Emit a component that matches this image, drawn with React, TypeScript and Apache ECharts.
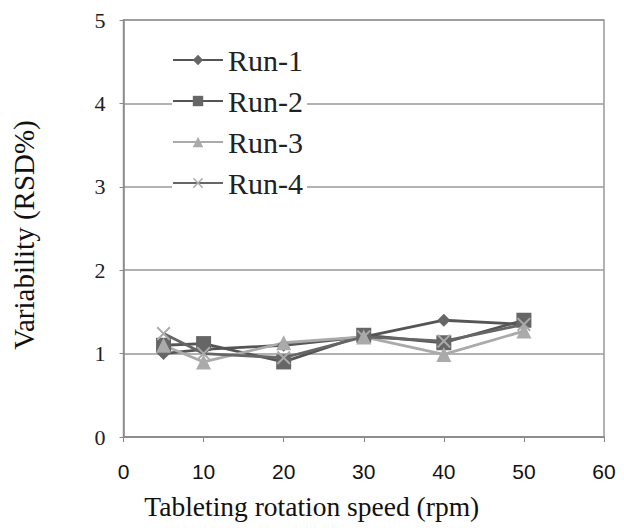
import React, { useEffect, useRef } from "react";
import * as echarts from "echarts";

const speeds = [5, 10, 20, 30, 40, 50];
const run1 = [1.0, 1.05, 1.1, 1.2, 1.4, 1.35];
const run2 = [1.1, 1.12, 0.9, 1.22, 1.13, 1.4];
const run3 = [1.1, 0.9, 1.13, 1.2, 0.99, 1.27];
const run4 = [1.24, 1.0, 0.95, 1.2, 1.15, 1.35];
const seriesNames = ["Run-1", "Run-2", "Run-3", "Run-4"];

const pairs = (ys: number[]) => speeds.map((x, i) => [x, ys[i]]);

const X_SYMBOL = "path://M0,1L1,0L5,4L9,0L10,1L6,5L10,9L9,10L5,6L1,10L0,9L4,5Z";

export default function App() {
  const ref = useRef<HTMLDivElement>(null);
  useEffect(() => {
    if (!ref.current) return;
    const chart = echarts.init(ref.current, null, { renderer: "svg" });
    const serif = "Liberation Serif";
    const mk = (name: string, data: number[], color: string, symbol: string, size: number, markerColor: string) => ({
      name,
      type: "line",
      data: pairs(data),
      symbol,
      symbolSize: size,
      lineStyle: { color, width: 2.8 },
      itemStyle: { color: markerColor, borderColor: markerColor, borderWidth: 0 },
    });
    chart.setOption({
      animation: false,
      backgroundColor: "#fff",
      textStyle: { fontFamily: serif },
      grid: { left: 123.5, right: 20, top: 20, bottom: 91, show: true, borderColor: "#999", borderWidth: 1.5 },
      xAxis: {
        type: "value",
        min: 0,
        max: 60,
        interval: 10,
        name: "Tableting rotation speed (rpm)",
        nameLocation: "middle",
        nameGap: 55,
        nameTextStyle: { fontFamily: serif, fontSize: 27.5, color: "#111", padding: [0, 104, 0, 0] },
        axisLine: { lineStyle: { color: "#888", width: 1.5 } },
        axisTick: { show: true, length: 5, lineStyle: { color: "#888" } },
        axisLabel: { fontFamily: "Liberation Sans", fontSize: 21, color: "#111", margin: 24 },
        splitLine: { show: false },
      },
      yAxis: {
        type: "value",
        min: 0,
        max: 5,
        interval: 1,
        name: "Variability (RSD%)",
        nameLocation: "middle",
        nameGap: 85,
        nameTextStyle: { fontFamily: serif, fontSize: 29, color: "#111", padding: [0, 13, 0, 0] },
        axisLine: { show: true, lineStyle: { color: "#888", width: 1.5 } },
        axisTick: { show: true, length: 4, lineStyle: { color: "#888" } },
        axisLabel: { fontFamily: serif, fontSize: 22, color: "#222", margin: 18 },
        splitLine: { show: true, lineStyle: { color: "#999", width: 1.5 } },
      },
      legend: {
        orient: "vertical",
        left: 172,
        top: 43,
        padding: [2, 4, 2, 0],
        backgroundColor: "#fff",
        itemWidth: 50,
        itemHeight: 13,
        itemGap: 11,
        data: seriesNames,
        textStyle: { fontFamily: serif, fontSize: 30, color: "#222" },
      },
      series: [
        mk("Run-1", run1, "#555", "diamond", 13, "#666"),
        mk("Run-2", run2, "#555", "rect", 15, "#666"),
        mk("Run-3", run3, "#aaa", "triangle", 15, "#aaa"),
        mk("Run-4", run4, "#666", X_SYMBOL, 14, "#aaa"),
      ],
    });
    return () => chart.dispose();
  }, []);
  return <div ref={ref} style={{ position: "fixed", left: 0, top: 0, width: 624, height: 528 }} />;
}
